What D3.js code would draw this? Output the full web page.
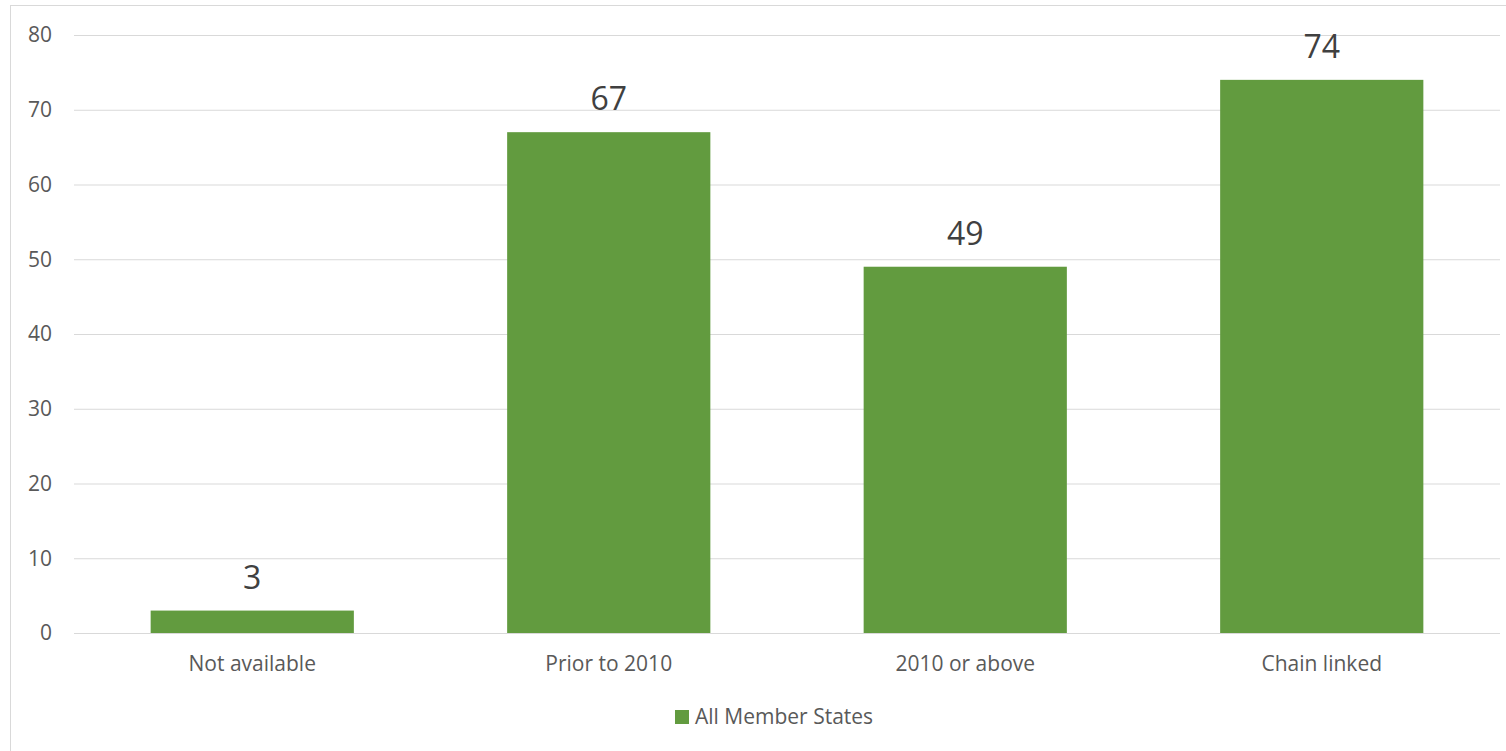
<!DOCTYPE html>
<head>
  <meta charset="utf-8" />
  <script src="https://d3js.org/d3.v7.min.js"></script>
  <style>
    body { margin: 0; background: #fff; }
    svg text { font-family: "Open Sans", sans-serif; }
  </style>
</head>
<body>
  <script>
    var categories = ["Not available", "Prior to 2010", "2010 or above", "Chain linked"];
    var values = [3, 67, 49, 74];
    var yTicks = [0, 10, 20, 30, 40, 50, 60, 70, 80];
    var seriesName = "All Member States";

    var width = 1506, height = 751;
    var margin = { left: 74, right: 6, top: 35, bottom: 118 };
    var barColor = "#629b3f";

    var svg = d3.select("body").append("svg")
      .attr("width", width)
      .attr("height", height);

    // chart frame (cut at right and bottom like the original)
    svg.append("rect")
      .attr("x", 10.5).attr("y", 5.5)
      .attr("width", 1510).attr("height", 760)
      .attr("fill", "none")
      .attr("stroke", "#d9d9d9");

    var x = d3.scaleBand()
      .domain(categories)
      .range([margin.left, width - margin.right])
      .paddingInner(0.43)
      .paddingOuter(0.215);

    var y = d3.scaleLinear()
      .domain([0, 80])
      .range([height - margin.bottom, margin.top]);

    // gridlines
    svg.append("g")
      .selectAll("line")
      .data(yTicks)
      .join("line")
      .attr("x1", margin.left)
      .attr("x2", width - margin.right)
      .attr("y1", d => y(d) + 0.5)
      .attr("y2", d => y(d) + 0.5)
      .attr("stroke", "#d9d9d9")
      .attr("stroke-width", 1);

    // y tick labels
    svg.append("g")
      .selectAll("text")
      .data(yTicks)
      .join("text")
      .attr("x", 52)
      .attr("y", d => y(d))
      .attr("dy", "0.35em")
      .attr("text-anchor", "end")
      .attr("fill", "#595959")
      .style("font-size", "21px")
      .text(d => d);

    // bars
    svg.append("g")
      .selectAll("rect")
      .data(values)
      .join("rect")
      .attr("x", (d, i) => x(categories[i]))
      .attr("width", x.bandwidth())
      .attr("y", d => y(d))
      .attr("height", d => y(0) - y(d))
      .attr("fill", barColor);

    // data labels
    svg.append("g")
      .selectAll("text")
      .data(values)
      .join("text")
      .attr("x", (d, i) => x(categories[i]) + x.bandwidth() / 2)
      .attr("y", d => y(d) - 22)
      .attr("text-anchor", "middle")
      .attr("fill", "#404040")
      .style("font-size", "32px")
      .text(d => d);

    // category labels
    svg.append("g")
      .selectAll("text")
      .data(categories)
      .join("text")
      .attr("x", d => x(d) + x.bandwidth() / 2)
      .attr("y", y(0) + 38)
      .attr("text-anchor", "middle")
      .attr("fill", "#595959")
      .style("font-size", "21px")
      .text(d => d);

    // legend
    var legend = svg.append("g").attr("transform", "translate(675,710)");
    legend.append("rect")
      .attr("width", 14).attr("height", 14)
      .attr("fill", barColor);
    legend.append("text")
      .attr("x", 20).attr("y", 14)
      .attr("fill", "#595959")
      .style("font-size", "21px")
      .text(seriesName);
  </script>
</body>
